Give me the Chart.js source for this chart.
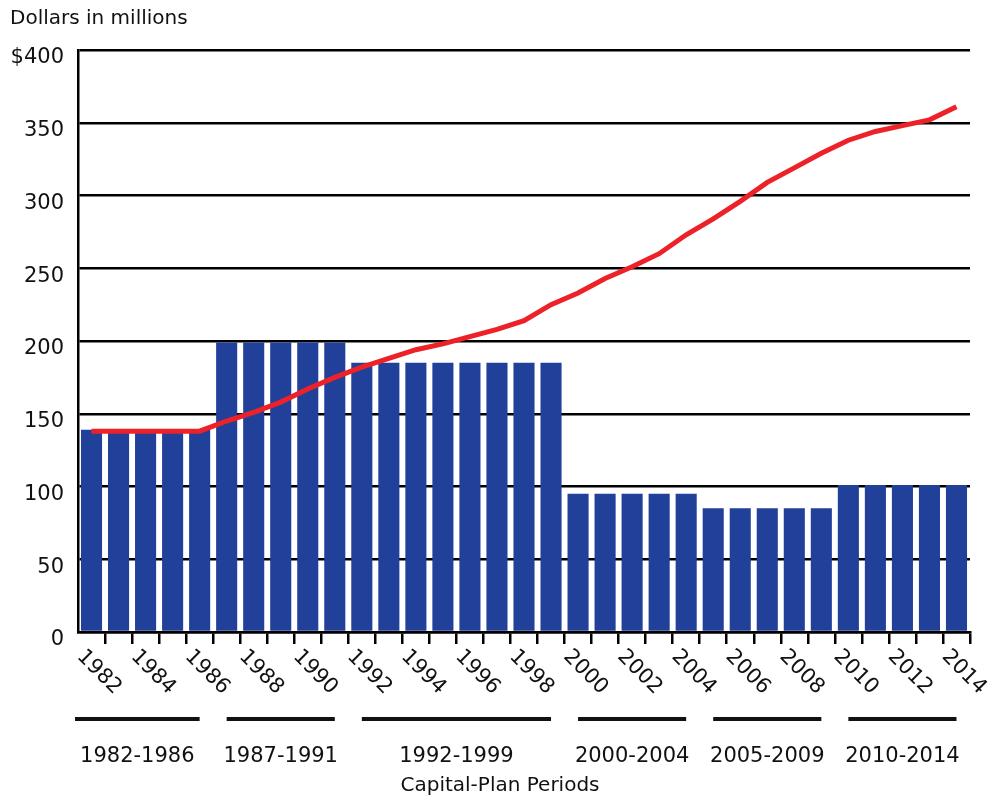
<!DOCTYPE html>
<html>
<head>
<meta charset="utf-8">
<script src="https://cdn.jsdelivr.net/npm/chart.js@4"></script>
<style>
  html, body { margin: 0; padding: 0; background: #fff; }
  #wrap { width: 992px; height: 800px; position: relative; }
</style>
</head>
<body>
<div id="wrap"><canvas id="capChart"></canvas></div>
<script>
const years = ['1982','1983','1984','1985','1986','1987','1988','1989','1990','1991',
    '1992','1993','1994','1995','1996','1997','1998','1999','2000','2001','2002',
    '2003','2004','2005','2006','2007','2008','2009','2010','2011','2012','2013','2014'];

// annual capital-plan spending (bars)
const planSpending = [139,139,139,139,139, 199,199,199,199,199,
    185,185,185,185,185,185,185,185, 95,95,95,95,95, 85,85,85,85,85,
    101,101,101,101,101];

// red line
const trendLine = [138,138,138,138,138, 145,151,158,167,175,
    182,188,194,198,203,208,214,225, 233,243,251,260,273, 284,296,309,319,329,
    338,344,348,352,361];

const yTicks = [0, 50, 100, 150, 200, 250, 300, 350, 400];

const periodLabels = ['1982-1986','1987-1991','1992-1999','2000-2004','2005-2009','2010-2014'];
const periodFirst = ['1982','1987','1992','2000','2005','2010'];
const periodLast = ['1986','1991','1999','2004','2009','2014'];

const FONT = '"DejaVu Sans", sans-serif';

const extraText = {
    id: 'extraText',
    afterDraw(chart) {
        const ctx = chart.ctx;
        const x = chart.scales.x;
        const bottom = chart.chartArea.bottom;
        ctx.save();
        ctx.fillStyle = '#111';

        // y-axis caption
        ctx.font = '20px ' + FONT;
        ctx.textAlign = 'left';
        ctx.textBaseline = 'middle';
        ctx.fillText('Dollars in millions', 10, 19);

        // rotated year labels, every other year
        ctx.font = '21px ' + FONT;
        years.forEach((yr, i) => {
            if (i % 2 !== 0) return;
            const cx = x.getPixelForValue(i);
            ctx.save();
            ctx.translate(cx - 4, bottom + 14);
            ctx.rotate(Math.PI / 4);
            ctx.textAlign = 'left';
            ctx.textBaseline = 'top';
            ctx.fillText(yr, 0, 0);
            ctx.restore();
        });

        // period brackets
        ctx.strokeStyle = '#111';
        ctx.lineWidth = 4;
        ctx.font = '21px ' + FONT;
        ctx.textAlign = 'center';
        ctx.textBaseline = 'middle';
        periodLabels.forEach((lab, i) => {
            let x1 = x.getPixelForValue(years.indexOf(periodFirst[i]));
            const x2 = x.getPixelForValue(years.indexOf(periodLast[i]));
            if (i === 0) x1 = x.left - 3;
            ctx.beginPath();
            ctx.moveTo(x1, 719);
            ctx.lineTo(x2, 719);
            ctx.stroke();
            ctx.fillText(lab, (x1 + x2) / 2, 757);
        });

        ctx.font = '20px ' + FONT;
        ctx.fillText('Capital-Plan Periods', 500, 786);
        ctx.restore();
    }
};

const ctx = document.getElementById('capChart').getContext('2d');
new Chart(ctx, {
    type: 'bar',
    data: {
        labels: years,
        datasets: [{
            type: 'line',
            data: trendLine,
            borderColor: '#ed2229',
            borderWidth: 5,
            pointRadius: 0,
            tension: 0,
            order: 0
        }, {
            type: 'bar',
            data: planSpending,
            backgroundColor: '#21409a',
            barPercentage: 0.78,
            categoryPercentage: 1,
            order: 1
        }]
    },
    options: {
        responsive: true,
        maintainAspectRatio: false,
        animation: false,
        layout: { padding: { top: 50, right: 22, left: 0, bottom: 0 } },
        plugins: {
            legend: { display: false },
            tooltip: { enabled: false }
        },
        scales: {
            x: {
                offset: true,
                grid: {
                    offset: true,
                    drawOnChartArea: false,
                    drawTicks: true,
                    tickLength: 12,
                    lineWidth: 2.5,
                    color: c => c.index === 0 ? 'rgba(0,0,0,0)' : '#000'
                },
                border: { display: true, color: '#000', width: 2.5 },
                ticks: { display: false },
                afterFit: s => { s.height = 168; }
            },
            y: {
                min: 0,
                max: 400,
                afterBuildTicks: s => { s.ticks = yTicks.map(v => ({ value: v })); },
                grid: { color: '#000', lineWidth: 2.5, drawTicks: false },
                border: { display: true, color: '#000', width: 2.5 },
                ticks: {
                    padding: 14,
                    labelOffset: 8,
                    color: '#111',
                    font: { family: FONT, size: 21 },
                    callback: v => v === 400 ? '$400' : String(v)
                },
                afterFit: s => { s.width = 78; }
            }
        }
    },
    plugins: [extraText]
});
</script>
</body>
</html>
